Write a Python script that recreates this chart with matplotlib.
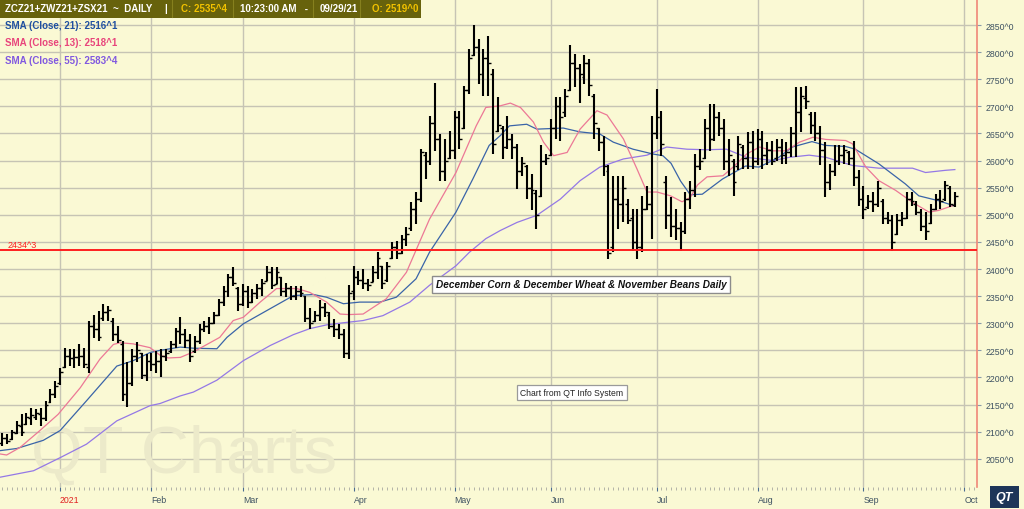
import numpy as np
import matplotlib
matplotlib.use('Agg')
import matplotlib.pyplot as plt
from matplotlib.patches import Rectangle

plt.rcParams['font.family'] = ['Liberation Sans', 'DejaVu Sans']

# daily bars, Dec 15 2020 .. Sep 29 2021 (bar index 0..198)
highs = [2098, 2095, 2104, 2119, 2132, 2135, 2144, 2141, 2144, 2156,
         2178, 2193, 2218, 2255, 2252, 2252, 2261, 2255, 2304, 2316,
         2322, 2335, 2332, 2310, 2295, 2267, 2228, 2252, 2265, 2246,
         2243, 2246, 2249, 2252, 2252, 2268, 2292, 2311, 2289, 2280,
         2277, 2298, 2305, 2311, 2320, 2345, 2369, 2391, 2403, 2366,
         2372, 2369, 2363, 2372, 2382, 2406, 2403, 2403, 2385, 2375,
         2369, 2369, 2369, 2351, 2329, 2323, 2342, 2338, 2320, 2308,
         2299, 2289, 2370, 2406, 2397, 2400, 2382, 2406, 2431, 2406,
         2413, 2449, 2452, 2462, 2477, 2523, 2542, 2621, 2615, 2683,
         2744, 2649, 2640, 2655, 2692, 2692, 2738, 2806, 2850, 2824,
         2806, 2830, 2769, 2717, 2664, 2683, 2649, 2631, 2606, 2591,
         2575, 2545, 2628, 2612, 2677, 2717, 2717, 2732, 2813, 2796,
         2778, 2795, 2787, 2723, 2661, 2646, 2591, 2572, 2572, 2572,
         2529, 2511, 2511, 2535, 2554, 2683, 2732, 2692, 2572, 2532,
         2511, 2486, 2542, 2563, 2612, 2621, 2677, 2704, 2704, 2689,
         2677, 2640, 2603, 2646, 2628, 2652, 2655, 2658, 2655, 2634,
         2637, 2640, 2640, 2634, 2662, 2735, 2735, 2738, 2689, 2689,
         2664, 2634, 2594, 2628, 2628, 2628, 2618, 2637, 2582, 2554,
         2536, 2542, 2563, 2529, 2505, 2499, 2502, 2505, 2542, 2542,
         2526, 2511, 2505, 2520, 2539, 2545, 2563, 2554, 2542]
lows = [2073, 2077, 2085, 2095, 2092, 2113, 2113, 2122, 2110, 2119,
        2153, 2162, 2187, 2218, 2221, 2218, 2221, 2218, 2209, 2273,
        2267, 2304, 2304, 2267, 2264, 2156, 2145, 2185, 2228, 2197,
        2194, 2212, 2209, 2200, 2231, 2246, 2255, 2262, 2255, 2228,
        2246, 2262, 2283, 2280, 2298, 2314, 2332, 2348, 2369, 2323,
        2332, 2329, 2338, 2345, 2351, 2378, 2363, 2372, 2351, 2348,
        2342, 2342, 2348, 2302, 2289, 2302, 2305, 2311, 2289, 2274,
        2271, 2236, 2234, 2342, 2370, 2363, 2360, 2376, 2382, 2363,
        2376, 2419, 2419, 2428, 2443, 2471, 2483, 2523, 2566, 2591,
        2618, 2563, 2563, 2603, 2603, 2621, 2658, 2723, 2793, 2741,
        2720, 2720, 2612, 2652, 2603, 2621, 2603, 2548, 2572, 2529,
        2508, 2474, 2532, 2591, 2609, 2640, 2637, 2680, 2729, 2735,
        2707, 2741, 2720, 2640, 2618, 2572, 2419, 2431, 2474, 2486,
        2483, 2434, 2419, 2431, 2508, 2456, 2640, 2609, 2474, 2459,
        2453, 2434, 2465, 2511, 2532, 2582, 2603, 2618, 2637, 2646,
        2582, 2572, 2535, 2582, 2585, 2585, 2585, 2591, 2585, 2591,
        2591, 2600, 2594, 2594, 2606, 2606, 2652, 2695, 2649, 2637,
        2591, 2532, 2545, 2572, 2591, 2594, 2591, 2554, 2517, 2493,
        2511, 2505, 2514, 2483, 2483, 2434, 2462, 2480, 2493, 2517,
        2499, 2471, 2453, 2483, 2508, 2511, 2526, 2514, 2514]
opens = [2080, 2088, 2086, 2098, 2110, 2115, 2125, 2128, 2132, 2125,
         2155, 2170, 2190, 2220, 2240, 2235, 2238, 2240, 2220, 2295,
         2290, 2310, 2320, 2305, 2280, 2262, 2170, 2190, 2240, 2245,
         2205, 2230, 2225, 2230, 2240, 2248, 2262, 2285, 2280, 2270,
         2248, 2268, 2290, 2295, 2300, 2315, 2340, 2360, 2385, 2365,
         2335, 2360, 2340, 2355, 2365, 2378, 2395, 2372, 2385, 2360,
         2365, 2350, 2360, 2350, 2310, 2305, 2315, 2330, 2315, 2295,
         2290, 2280, 2245, 2360, 2385, 2380, 2375, 2376, 2395, 2405,
         2380, 2420, 2440, 2430, 2455, 2475, 2510, 2530, 2610, 2600,
         2670, 2640, 2580, 2605, 2620, 2680, 2660, 2730, 2795, 2810,
         2760, 2790, 2760, 2655, 2660, 2625, 2640, 2625, 2580, 2590,
         2550, 2540, 2535, 2600, 2610, 2660, 2700, 2690, 2730, 2780,
         2770, 2755, 2780, 2720, 2660, 2635, 2580, 2440, 2530, 2520,
         2520, 2495, 2450, 2440, 2510, 2520, 2650, 2680, 2560, 2500,
         2480, 2475, 2470, 2530, 2545, 2590, 2605, 2660, 2640, 2680,
         2660, 2600, 2600, 2590, 2625, 2605, 2635, 2600, 2640, 2610,
         2620, 2605, 2625, 2610, 2615, 2650, 2690, 2715, 2685, 2665,
         2650, 2620, 2560, 2580, 2600, 2610, 2615, 2605, 2570, 2530,
         2515, 2525, 2520, 2525, 2495, 2490, 2465, 2490, 2495, 2530,
         2520, 2505, 2480, 2485, 2510, 2530, 2530, 2550, 2519]
closes = [2088, 2082, 2100, 2112, 2100, 2128, 2130, 2135, 2125, 2150,
          2170, 2185, 2210, 2240, 2235, 2238, 2240, 2225, 2295, 2290,
          2275, 2320, 2325, 2280, 2270, 2170, 2190, 2240, 2250, 2205,
          2230, 2225, 2230, 2240, 2245, 2262, 2285, 2280, 2270, 2240,
          2268, 2290, 2295, 2300, 2315, 2340, 2360, 2385, 2375, 2335,
          2360, 2340, 2355, 2365, 2375, 2395, 2370, 2395, 2360, 2365,
          2350, 2360, 2355, 2310, 2300, 2315, 2330, 2320, 2295, 2290,
          2280, 2245, 2355, 2385, 2380, 2375, 2370, 2395, 2420, 2375,
          2405, 2440, 2430, 2455, 2465, 2510, 2530, 2615, 2600, 2670,
          2640, 2580, 2600, 2620, 2680, 2640, 2730, 2790, 2810, 2760,
          2790, 2780, 2630, 2665, 2625, 2640, 2625, 2580, 2595, 2550,
          2545, 2500, 2600, 2605, 2660, 2700, 2680, 2720, 2780, 2770,
          2760, 2780, 2740, 2670, 2635, 2590, 2430, 2530, 2520, 2550,
          2490, 2450, 2440, 2510, 2520, 2650, 2680, 2630, 2500, 2480,
          2475, 2470, 2530, 2545, 2590, 2600, 2660, 2640, 2680, 2660,
          2600, 2610, 2560, 2630, 2605, 2635, 2600, 2640, 2610, 2620,
          2600, 2625, 2610, 2615, 2650, 2690, 2720, 2710, 2665, 2650,
          2620, 2560, 2580, 2600, 2610, 2620, 2605, 2570, 2530, 2510,
          2525, 2520, 2550, 2495, 2490, 2450, 2490, 2495, 2530, 2525,
          2505, 2480, 2470, 2510, 2530, 2525, 2555, 2520, 2535.4]

# moving averages (bar index, value)
sma21_x = [-0.5, 3, 8.5, 12, 17.5, 23.8, 27.2, 30.7, 32.8, 37, 39.7, 44.6, 46.7, 50.1,
           55.7, 60.5, 64.7, 67.4, 70.9, 74.3, 78.5, 81.9, 86, 88.8, 94.3, 97.8, 101.2,
           103.5, 105.4, 109, 111.1, 116.6, 120, 124.2, 127, 131.1, 135.3, 137.3, 139,
           141, 143, 145.5, 149.7, 154.5, 157.3, 161.4, 164.2, 168.3, 171.1, 175.3,
           177.3, 182.2, 187.7, 190.5, 194.6, 198]
sma21_y = [2065, 2069, 2084, 2102, 2157, 2221, 2231, 2246, 2250, 2256, 2254, 2253, 2274, 2299,
           2327, 2351, 2353, 2348, 2336, 2339, 2339, 2348, 2382, 2431, 2505, 2566, 2628,
           2646, 2664, 2667, 2658, 2660, 2653, 2649, 2634, 2621, 2612, 2609, 2595,
           2562, 2537, 2538, 2566, 2590, 2588, 2606, 2625, 2635, 2628, 2626,
           2621, 2594, 2557, 2535, 2526, 2516.1]
sma13_x = [-0.5, 0.9, 3.7, 7.8, 11.6, 16.2, 20.3, 23.1, 24.5, 27.2, 30.7, 32.8, 34.5, 37,
           39.7, 45.2, 48, 50.1, 53.6, 57, 61.2, 63.9, 67.4, 70.2, 72, 75, 79.8, 84, 88.8,
           94.3, 98.5, 100.5, 103.5, 105.6, 107.7, 110.4, 112.5, 114.6, 117.4, 120.1,
           123.6, 125.7, 129.1, 131.9, 134, 136.1, 138.9, 141.3, 143, 144.5, 146.5,
           149.8, 151.9, 154.7, 157.4, 160.2, 162.9, 165.7, 168.5, 171.2, 175.3, 176.7,
           179.5, 182.2, 185.7, 189.2, 192.6, 194.6, 198]
sma13_y = [2059, 2057, 2071, 2102, 2132, 2181, 2234, 2261, 2264, 2262, 2255, 2241, 2236, 2237,
           2247, 2274, 2305, 2311, 2339, 2364, 2364, 2357, 2339, 2317, 2316, 2317, 2345, 2394, 2492,
           2578, 2664, 2698, 2701, 2706, 2698, 2671, 2634, 2609, 2615, 2658,
           2692, 2684, 2640, 2585, 2542, 2542, 2535, 2524, 2532, 2555, 2570,
           2572, 2588, 2612, 2625, 2618, 2618, 2634, 2643, 2639, 2637, 2631,
           2588, 2563, 2545, 2523, 2505, 2508, 2518.1]
sma55_x = [-0.5, 6.5, 12, 17.5, 23.8, 30.7, 32.8, 37, 39.7, 44.6, 50.1, 55.7, 60.5, 63.9,
           67.4, 71, 75, 79.1, 84.7, 88.8, 94.3, 97.1, 100.5, 103.5, 107, 111.1, 116,
           120.1, 124.2, 129.1, 134, 138.1, 142.3, 146.4, 150.5, 154.7, 160.2, 163.6,
           167.7, 171.2, 176.7, 182.2, 189.2, 191.9, 196, 198]
sma55_y = [2016, 2028, 2052, 2077, 2120, 2148, 2152, 2166, 2173, 2195, 2231, 2259, 2279, 2290,
           2297, 2301, 2305, 2314, 2339, 2370, 2406, 2431, 2456, 2471, 2486, 2499, 2529,
           2563, 2588, 2603, 2610, 2625, 2621, 2620, 2621, 2606, 2600, 2606,
           2610, 2606, 2591, 2586, 2586, 2578, 2582, 2583.4]

month_pos = [12, 31, 50, 73, 94, 114, 136, 157, 179, 200]
month_lbl = ['2021', 'Feb', 'Mar', 'Apr', 'May', 'Jun', 'Jul', 'Aug', 'Sep', 'Oct']
price_ticks = list(range(2050, 2851, 50))
red_level = 2434.3

bg = '#FAF9D4'
W, H = 1024, 510
fig = plt.figure(figsize=(W / 100, H / 100), dpi=100, facecolor=bg)
ax = fig.add_axes([0, 22 / H, 977 / W, 488 / H])
ax.set_facecolor(bg)
ax.set_xlim(-0.48, 202.6)
ax.set_ylim(1998, 2898)

# grid
for p in price_ticks:
    ax.axhline(p, color='#C6C4B4', lw=1.0, zorder=0)
for m in month_pos:
    ax.axvline(m, color='#C6C4B4', lw=1.0, zorder=0)

# OHLC bars
idx = np.arange(len(highs))
ax.vlines(idx, lows, highs, color='black', lw=1.5, zorder=3)
ax.hlines(opens, idx - 0.6, idx, color='black', lw=1.0, zorder=3)
ax.hlines(closes, idx, idx + 0.6, color='black', lw=1.0, zorder=3)

# moving averages
ax.plot(sma55_x, sma55_y, color='#9478E6', lw=0.9, zorder=2)
ax.plot(sma21_x, sma21_y, color='#3A64A8', lw=0.9, zorder=2)
ax.plot(sma13_x, sma13_y, color='#EC7896', lw=0.9, zorder=2)

ax.axhline(red_level, color='#FF1F1F', lw=1.4, zorder=4)
ax.text(1, red_level + 2, '2434^3', color='#FF1F1F', fontsize=6.5, va='bottom', ha='left')

# watermark
ax.text(6, 2001, 'QT Charts', fontsize=48, color='#ECEACA', ha='left', va='bottom',
        zorder=1, clip_on=True)

# axes styling
for s in ['top', 'left', 'bottom']:
    ax.spines[s].set_visible(False)
ax.spines['right'].set_color('#F08878')
ax.spines['right'].set_linewidth(1.2)
ax.yaxis.tick_right()
ax.set_yticks(price_ticks)
ax.set_yticklabels([f'{p}^0' for p in price_ticks])
ax.tick_params(axis='y', length=3, color='#8A9AA8', width=0.8, pad=3,
               labelsize=6.3, labelcolor='#3E5262')
ax.set_xticks(month_pos)
ax.set_xticklabels(month_lbl)
ax.set_xticks(np.arange(-0.0, 203, 1), minor=True)
ax.tick_params(axis='x', which='major', length=3, color='#4A6A90', width=0.8, pad=3,
               labelsize=6.3, labelcolor='#3E5262')
ax.tick_params(axis='x', which='minor', length=2, color='#A8A8A0', width=0.6)
for lbl in ax.get_xticklabels():
    lbl.set_ha('left')
ax.get_xticklabels()[0].set_color('#E02020')
ax.get_xaxis().get_major_ticks()[0].tick1line.set_color('#E02020')


def fx(x):
    return x / W


def fy(y):
    return 1 - y / H


# header strip
fig.patches.append(Rectangle((0, fy(19)), fx(421), 19 / H, transform=fig.transFigure,
                             facecolor='#67620C', edgecolor='none', zorder=5))
for xs in [172, 233, 313, 360]:
    fig.lines.append(plt.Line2D([fx(xs), fx(xs)], [fy(18), fy(1)], transform=fig.transFigure,
                                color='#86801E', lw=0.8, zorder=6))
hdr = dict(fontsize=7, fontweight='bold', va='center', ha='left', zorder=7)
fig.text(fx(5), fy(9.5), 'ZCZ21+ZWZ21+ZSX21  ~  DAILY', color='white', **hdr)
fig.text(fx(164), fy(9.5), '|', color='white', **hdr)
fig.text(fx(181), fy(9.5), 'C: 2535^4', color='#F2C200', **hdr)
fig.text(fx(240), fy(9.5), '10:23:00 AM   -', color='white', **hdr)
fig.text(fx(320), fy(9.5), '09/29/21', color='white', **hdr)
fig.text(fx(372), fy(9.5), 'O: 2519^0', color='#F2C200', **hdr)

leg = dict(fontsize=7, fontweight='bold', va='center', ha='left')
fig.text(fx(5), fy(26), 'SMA (Close, 21): 2516^1', color='#2050A0', **leg)
fig.text(fx(5), fy(43.5), 'SMA (Close, 13): 2518^1', color='#E8457C', **leg)
fig.text(fx(5), fy(61), 'SMA (Close, 55): 2583^4', color='#8058E0', **leg)

# annotation boxes
fig.text(fx(581), fy(285.5), 'December Corn & December Wheat & November Beans Daily',
         fontsize=7.2, fontweight='bold', fontstyle='italic', ha='center', va='center',
         color='#111111',
         bbox=dict(boxstyle='square,pad=0.35', fc='white', ec='#8C8C8C', lw=1.0))
fig.text(fx(572), fy(393.5), 'Chart from QT Info System', fontsize=6.2, ha='center',
         va='center', color='#222222',
         bbox=dict(boxstyle='square,pad=0.35', fc='white', ec='#9A9A9A', lw=0.9))

# QT logo
fig.patches.append(Rectangle((fx(990), fy(509)), fx(29), 22 / H, transform=fig.transFigure,
                             facecolor='#1D3558', edgecolor='none', zorder=5))
fig.text(fx(1004.5), fy(498), 'QT', fontsize=9, fontweight='bold', fontstyle='italic',
         color='white', ha='center', va='center', zorder=6)

fig.savefig('out.png', dpi=100, facecolor=bg)
